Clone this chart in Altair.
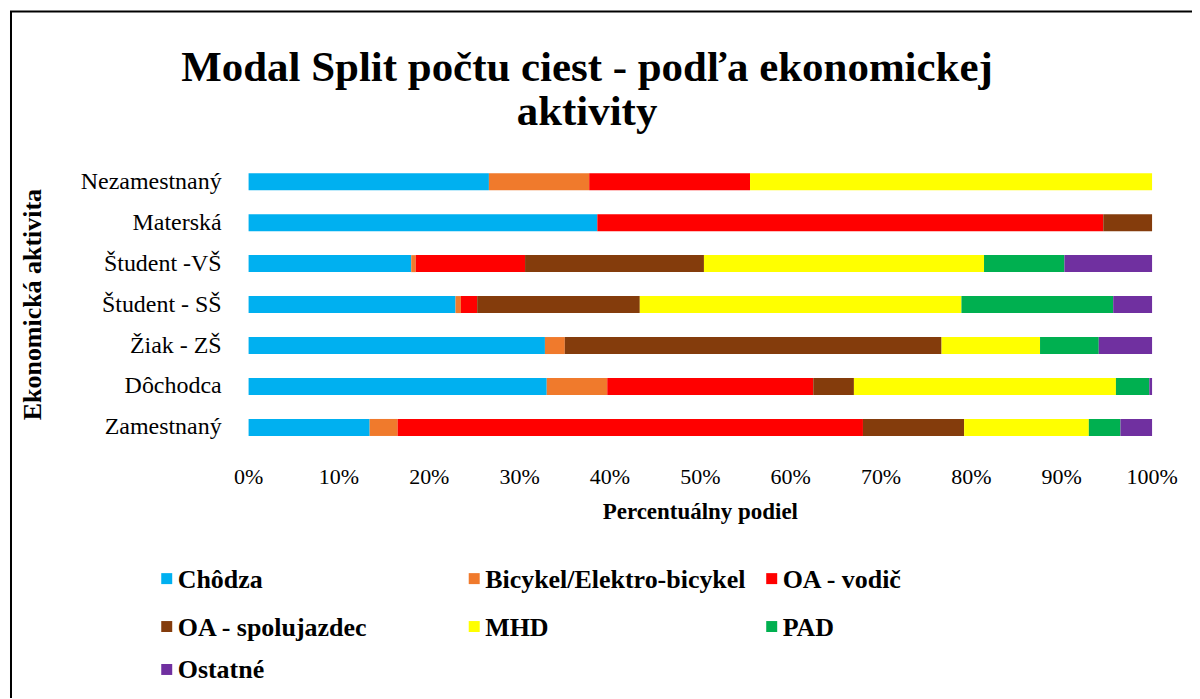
import altair as alt
import pandas as pd

categories = ["Nezamestnaný", "Materská", "Študent -VŠ", "Študent - SŠ",
              "Žiak - ZŠ", "Dôchodca", "Zamestnaný"]
modes = ["Chôdza", "Bicykel/Elektro-bicykel", "OA - vodič", "OA - spolujazdec",
         "MHD", "PAD", "Ostatné"]
colors = ["#00B0F0", "#F07A2C", "#FF0000", "#843C0C", "#FFFF00", "#00B050", "#7030A0"]
title_lines = ["Modal Split počtu ciest - podľa ekonomickej", "aktivity"]
x_ticks = [0.0, 0.1, 0.2, 0.3, 0.4, 0.5, 0.6, 0.7, 0.8, 0.9, 1.0]
x_title = "Percentuálny podiel"
y_title = "Ekonomická aktivita"

# shares (%) per category, in order of modes
chodza      = [26.6, 38.6, 18.0, 22.9, 32.8, 33.0, 13.4]
bicykel     = [11.1,  0.0,  0.5,  0.6,  2.2,  6.7,  3.1]
oa_vodic    = [17.8, 56.0, 12.1,  1.8,  0.0, 22.8, 51.5]
oa_spoluj   = [ 0.0,  5.4, 19.8, 18.0, 41.7,  4.5, 11.2]
mhd         = [44.5,  0.0, 31.0, 35.6, 10.9, 29.0, 13.8]
pad         = [ 0.0,  0.0,  8.9, 16.8,  6.5,  3.7,  3.5]
ostatne     = [ 0.0,  0.0,  9.7,  4.3,  5.9,  0.3,  3.5]

series = [chodza, bicykel, oa_vodic, oa_spoluj, mhd, pad, ostatne]
rows = []
for mi, (m, vals) in enumerate(zip(modes, series)):
    for c, v in zip(categories, vals):
        rows.append({"Kategória": c, "Mód": m, "Podiel": v, "poradie": mi})
df = pd.DataFrame(rows)

FONT = "Liberation Serif"
W, H = 905, 287
xscale = alt.Scale(domain=[0, 1], nice=False)
ysort = categories

bars = alt.Chart(df).mark_bar().encode(
    y=alt.Y("Kategória:N", sort=ysort,
            scale=alt.Scale(paddingInner=0.585, paddingOuter=0.29),
            axis=alt.Axis(title=None, labels=False, ticks=False,
                          domain=True, domainColor="#D9D9D9", domainWidth=2)),
    x=alt.X("Podiel:Q", stack="normalize", scale=xscale,
            axis=alt.Axis(values=x_ticks, title=None, labels=False, grid=True,
                          gridColor="#D9D9D9", gridWidth=2, domain=False, ticks=False)),
    color=alt.Color("Mód:N", sort=modes, scale=alt.Scale(domain=modes, range=colors),
                    legend=None),
    order=alt.Order("poradie:Q", sort="ascending"),
)

# category labels placed through the y scale
ylab = alt.Chart(pd.DataFrame({"Kategória": categories})).mark_text(
    font=FONT, fontSize=24, color="black", align="right", baseline="middle"
).encode(y=alt.Y("Kategória:N", sort=ysort, axis=None),
         text="Kategória:N", x=alt.value(-27))

# tick labels placed through the x scale
xlab = alt.Chart(pd.DataFrame({"t": x_ticks})).mark_text(
    font=FONT, fontSize=22, color="black", align="center", baseline="middle"
).encode(x=alt.X("t:Q", scale=xscale, axis=None),
         text=alt.Text("t:Q", format=".0%"), y=alt.value(316))

xt = alt.Chart(pd.DataFrame({"t": [x_title]})).mark_text(
    font=FONT, fontSize=23, fontWeight="bold", color="black", align="center",
    baseline="middle").encode(text="t:N", x=alt.value(W / 2), y=alt.value(351))
yt = alt.Chart(pd.DataFrame({"t": [y_title]})).mark_text(
    font=FONT, fontSize=26, fontWeight="bold", color="black", align="center",
    baseline="middle", angle=270).encode(text="t:N", x=alt.value(-216), y=alt.value(H / 2))

title_layers = []
for i, line in enumerate(title_lines):
    title_layers.append(alt.Chart(pd.DataFrame({"t": [line]})).mark_text(
        font=FONT, fontSize=43, fontWeight="bold", color="black", align="center",
        baseline="middle").encode(text="t:N", x=alt.value(339), y=alt.value(-93 + 44 * i)))

# legend: 3 columns, row-major
col_x = [-82, 226, 524]
row_y = [418, 466, 509]
legend_layers = []
for i, (m, c) in enumerate(zip(modes, colors)):
    cx, ry = col_x[i % 3], row_y[i // 3]
    ld = pd.DataFrame({"Mód": [m]})
    legend_layers.append(alt.Chart(ld).mark_square(
        color=c, size=121, opacity=1, strokeWidth=0).encode(
        x=alt.value(cx), y=alt.value(ry)))
    legend_layers.append(alt.Chart(ld).mark_text(
        font=FONT, fontSize=26, fontWeight="bold", color="black", align="left",
        baseline="middle").encode(text="Mód:N", x=alt.value(cx + 11), y=alt.value(ry + 1)))

border = alt.Chart(pd.DataFrame({"a": [0]})).mark_rect(
    fill=None, stroke="black", strokeWidth=2).encode(
    x=alt.value(-238), x2=alt.value(1000), y=alt.value(-150), y2=alt.value(600))

chart = alt.layer(bars, ylab, xlab, xt, yt, *title_layers, *legend_layers, border).properties(
    width=W, height=H,
    autosize=alt.AutoSizeParams(type="none"),
    padding={"left": 241, "top": 153, "right": 40, "bottom": 250},
).configure(font=FONT, background="white").configure_view(stroke=None)

chart.save("out.html", embed_options={"renderer": "svg", "actions": False})
